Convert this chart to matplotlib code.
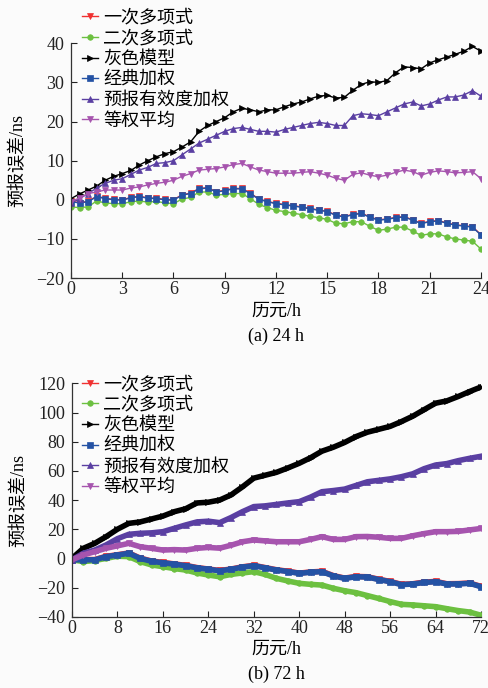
import matplotlib
matplotlib.use('Agg')
import matplotlib.pyplot as plt
import numpy as np

plt.rcParams['font.family'] = ['Liberation Serif', 'Noto Sans CJK SC']
plt.rcParams['axes.unicode_minus'] = True

labels = ['一次多项式', '二次多项式', '灰色模型', '经典加权', '预报有效度加权', '等权平均']
colors = ['#f03030', '#6cc040', '#000000', '#2452a4', '#5a3fa2', '#a654ae']
markers = ['v', 'o', '>', 's', '^', 'v']

# (a) 24 h, every 0.5 h
t24 = np.arange(0, 24.01, 0.5)
a_black = [0.3, 1.5, 2.5, 3.5, 5, 6, 6.7, 7.5, 8.9, 10, 11, 11.8, 12.3, 13.5, 14.8, 17.5, 19,
           20, 21, 22.5, 23.4, 23, 22.5, 23, 23, 23.8, 24.5, 25, 25.8, 26.5, 26.7, 26, 26.2,
           28, 29.5, 30.2, 30, 30.5, 32.5, 34, 33.8, 33.5, 35, 35.8, 36.5, 37.2, 38, 39.2, 38]
a_purple = [-0.8, 0.3, 1.6, 3, 4.2, 5, 5.4, 6.5, 7.6, 8.3, 9.3, 9.5, 10, 11.5, 13, 14.5, 15.5,
            16.5, 17.5, 18.2, 18.5, 18, 17.5, 17.5, 17.3, 18, 18.5, 19, 19.5, 19.8, 19.5, 19, 19,
            21.5, 22, 21.8, 21.5, 22.5, 23.5, 24.5, 25, 24, 24.5, 25.5, 26.3, 26.3, 26.8, 27.9, 26.5]
a_magenta = [-0.5, 0.5, 1.6, 2, 2.5, 2.5, 2.5, 3, 3.3, 3.8, 4.2, 4.5, 5, 6, 6.7, 7.6, 7.8,
             8, 8.4, 9, 9.3, 8.4, 7.6, 7.2, 6.8, 6.8, 6.8, 7, 7.2, 6.8, 6.3, 5.5, 5,
             6.5, 6.9, 6.3, 5.9, 6.3, 7, 7.6, 7.2, 6.3, 7, 7.4, 7.2, 6.9, 7, 7.2, 5.4]
a_blue = [-0.5, -0.8, -0.5, 0.8, 0.3, 0, -0.1, 0.5, 0.8, 0.4, 0.3, 0, -0.1, 1.2, 1.6, 2.8, 3,
          2, 2.3, 2.8, 2.8, 1.6, 0.1, -0.5, -1, -1.3, -1.6, -1.9, -2.3, -2.7, -3, -4, -4.4,
          -3.8, -3.5, -4.5, -5.2, -5, -4.6, -4.4, -5.2, -6.1, -5.6, -5.4, -6, -6.5, -6.7, -7, -9]
a_red = [-0.4, -0.7, -0.4, 0.9, 0.4, 0.1, 0, 0.6, 0.9, 0.5, 0.4, 0.1, 0, 1.3, 1.7, 2.9, 3.1,
         2.1, 2.4, 2.9, 2.9, 1.7, 0.2, -0.4, -0.9, -1.2, -1.5, -1.8, -2.2, -2.6, -2.9, -3.9, -4.3,
         -3.7, -3.4, -4.4, -5.1, -4.9, -4.5, -4.3, -5.1, -6, -5.5, -5.3, -5.9, -6.4, -6.6, -6.9, -8.9]
a_green = [-1.8, -2, -1.8, -0.3, -0.8, -1, -1, -0.5, -0.3, -0.6, -0.4, -0.8, -1, 0.2, 0.6, 2, 2,
           1.2, 1.4, 1.6, 1.6, 0.3, -1.2, -2, -2.7, -3, -3.4, -3.8, -4.2, -4.6, -5, -6, -6.1,
           -5.6, -5.6, -6.8, -7.8, -7.5, -7, -7, -8, -9.1, -8.7, -8.7, -9.5, -10, -10.3, -10.6, -12.6]

# (b) 72 h, every 2 h
t72 = np.arange(0, 72.01, 2)
b_black = [0, 6.9, 10.3, 14.9, 20, 24, 25, 27, 29, 32, 34, 38, 38.5, 40, 43.5, 49, 55, 57, 59,
           62, 65.2, 69, 73.5, 76.2, 79.5, 83.5, 86.5, 88.5, 90.5, 93.8, 97.5, 102, 106.4, 108,
           111, 114.4, 117.5]
b_purple = [-1, 3.5, 5.7, 9.2, 13.5, 16.5, 17.2, 17.5, 18.3, 20.6, 22.9, 25, 25.5, 24.5, 28, 32,
            35.5, 36, 37, 38, 38.9, 42, 45.7, 46.5, 47.5, 50, 52.5, 53.5, 54.5, 56, 58, 61.5, 64,
            65, 67, 68.6, 70]
b_magenta = [-1, 2.3, 4.6, 6.9, 8.6, 10.3, 8, 6.9, 5.7, 6, 5.7, 6.9, 7.5, 7, 9, 11.4, 12.6, 12,
             11.4, 11.4, 11.4, 13, 14.9, 13, 13, 14.9, 15, 14.5, 13.7, 13.7, 15.5, 17, 18.3, 18.3,
             18.5, 19.5, 20.5]
b_blue = [-1, -1, -1, 1.2, 2.3, 3.5, 0, -2, -3, -4, -5, -6.5, -7.5, -8.5, -7.5, -6, -5, -6.5,
          -8, -9, -10.3, -9.5, -9.1, -12, -13.7, -12.6, -12.8, -14.5, -16, -18, -17.6, -16.5,
          -16, -17.6, -17.5, -17.1, -19.4]
b_red = [-0.8, -0.8, -0.8, 1.4, 2.5, 3.7, 0.2, -1.8, -2.8, -3.8, -4.8, -6.3, -7.3, -8.3, -7.3,
         -5.8, -4.8, -6.3, -7.8, -8.8, -10.1, -9.3, -8.9, -11.8, -13.5, -12.4, -12.6, -14.3,
         -15.8, -17.8, -17.4, -16.3, -15.8, -17.4, -17.3, -16.9, -19.2]
b_green = [-1, -2.2, -1.5, 0, 1.5, 1.2, -2.2, -4.5, -5.7, -7, -8, -10, -11.4, -12.6, -11, -10,
           -9.1, -11, -13.7, -15.5, -17.1, -17.8, -18.3, -20.5, -22.2, -23.5, -25.5, -27.5,
           -29.6, -31.5, -31.9, -32.5, -33.1, -34.5, -35.8, -36.8, -39]

FS = 13


def draw(ax, t, series, ms, lw, xticks, yticks, ylim, caption, legend_y):
    for y, c, m, lab in zip(series, colors, markers, labels):
        ax.plot(t, y, color=c, marker=m, markersize=ms, linewidth=lw,
                markeredgewidth=0.5, label=lab)
    ax.set_xlim(xticks[0], xticks[-1])
    ax.set_ylim(*ylim)
    ax.set_xticks(xticks)
    ax.set_yticks(yticks)
    ax.spines['top'].set_visible(False)
    ax.spines['right'].set_visible(False)
    for s in ['left', 'bottom']:
        ax.spines[s].set_color('#333333')
        ax.spines[s].set_linewidth(0.9)
    ax.tick_params(direction='in', length=4, width=0.8, labelsize=FS, colors='#222222')
    ax.tick_params(axis='y', pad=5)
    ax.tick_params(axis='x', pad=2)
    ax.set_facecolor('#fbfbfb')
    ax.set_ylabel('预报误差/ns', fontsize=FS)
    ax.yaxis.set_label_coords(-0.108, 0.5)
    ax.set_xlabel('历元/h', fontsize=FS)
    ax.xaxis.set_label_coords(0.5, -0.105)
    ax.text(0.5, -0.248, caption, transform=ax.transAxes, ha='center', va='center', fontsize=FS)
    leg = ax.legend(loc='upper left', bbox_to_anchor=(0.168, legend_y),
                    bbox_transform=fig.transFigure, frameon=False, fontsize=FS,
                    handlelength=0.9, handletextpad=0.25, labelspacing=0.2, numpoints=1,
                    borderaxespad=0, borderpad=0)
    for line in leg.get_lines():
        line.set_linewidth(1.0)


fig = plt.figure(figsize=(4.89, 6.88), dpi=100, facecolor='#fbfbfb')

ax1 = fig.add_axes([0.1452, 0.5959, 0.8384, 0.3411])
draw(ax1, t24, [a_red, a_green, a_black, a_blue, a_purple, a_magenta], 4, 1.0,
     list(range(0, 25, 3)), list(range(-20, 41, 10)), (-20, 40), '(a) 24 h', 0.986)

ax2 = fig.add_axes([0.1472, 0.1036, 0.8364, 0.3392])
draw(ax2, t72, [b_red, b_green, b_black, b_blue, b_purple, b_magenta], 4, 4.0,
     list(range(0, 73, 8)), list(range(-40, 121, 20)), (-40, 120), '(b) 72 h', 0.4535)

fig.savefig('out.png', dpi=100, facecolor=fig.get_facecolor())
